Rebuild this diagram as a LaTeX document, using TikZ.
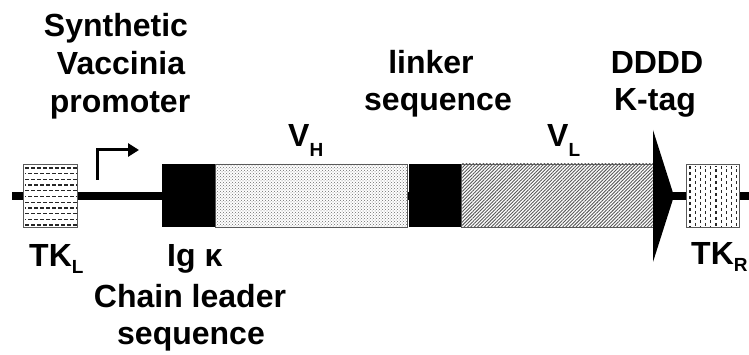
\documentclass[tikz,border=0pt]{standalone}
\usepackage{fontspec}
\setmainfont{Liberation Sans}
\usetikzlibrary{patterns,patterns.meta,arrows.meta}
\newcommand{\lowsub}[2]{\raisebox{-#1}{\fontsize{19}{19}\selectfont #2}}
\begin{document}
\begin{tikzpicture}[x=1pt,y=-1pt,
  lbl/.style={font=\bfseries\fontsize{32}{38}\selectfont, inner sep=0pt, anchor=base},
  lblw/.style={lbl, anchor=base west},
  boxline/.style={draw=gray!70!black, line width=0.8pt},
  blackbox/.style={fill=black},
  dashrow/.style={gray!30!black, line width=1.3pt, dash pattern=on 3.5pt off 2.5pt}]
\useasboundingbox (0,0) rectangle (749,355);
\fill[white] (0,0) rectangle (749,355);

% backbone
\coordinate (bbL) at (12,196);
\coordinate (bbR) at (749,196);
\draw[line width=8pt] (bbL) -- (bbR);

% TK_L box with horizontal dashes
\fill[white] (23,164) rectangle (77,227);
\begin{scope}
  \clip (23,164) rectangle (77,227);
  \foreach \r [evaluate=\r as \yy using {168+\r*5.7}, evaluate=\r as \ph using {mod(\r,2)*3}] in {0,...,10}
    \draw[dashrow, dash phase=\ph pt] (25,\yy) -- (77,\yy);
\end{scope}
\draw[boxline] (23,164) rectangle (77,227);

% TK_R box with vertical dashes
\fill[white] (686,164) rectangle (739,227);
\begin{scope}
  \clip (686,164) rectangle (739,227);
  \foreach \c [evaluate=\c as \xx using {690+\c*5.2}, evaluate=\c as \ph using {mod(\c,2)*3}] in {0,...,9}
    \draw[dashrow, dash phase=\ph pt] (\xx,166) -- (\xx,227);
\end{scope}
\draw[boxline] (686,164) rectangle (739,227);

% Ig kappa leader (black)
\fill[blackbox] (162,164) rectangle (215,227);
% VH
\fill[white] (215,164) rectangle (407,227);
\fill[pattern=crosshatch dots, pattern color=gray!85!black] (215,164) rectangle (407,227);
\draw[boxline] (215,164) rectangle (407,227);
% linker (black)
\fill[blackbox] (409,164) rectangle (461,227);
% VL
\fill[white] (461,164) rectangle (653,227);
\fill[pattern={Lines[angle=45,distance=2.4pt,line width=0.9pt]}, pattern color=gray!70!black] (461,164) rectangle (653,227);
\draw[boxline] (461,164) rectangle (653,227);

% DDDDK tag triangle
\fill (653,130) .. controls (663.5,163) .. (674,196) .. controls (663.5,229) .. (653,262) -- cycle;

% promoter arrow
\coordinate (pa) at (97,180);
\coordinate (pb) at (97,150);
\coordinate (pc) at (139,150);
\draw[line width=3pt, line join=miter, -{Triangle[length=11pt,width=13pt]}] (pa) -- (pb) -- (pc);

% labels
\node[lbl] (syn1) at (116,37) {Synthetic};
\node[lbl] (syn2) at (121,75) {Vaccinia};
\node[lbl] (syn3) at (120,113) {promoter};
\node[lbl] (lnk1) at (431,74) {linker};
\node[lbl] (lnk2) at (438,111) {sequence};
\node[lbl] (tag1) at (657,74) {DDDD};
\node[lbl] (tag2) at (655,111) {K-tag};
\node[lblw] (vh) at (288,147) {V\lowsub{10pt}{H}};
\node[lblw] (vl) at (547,147) {V\lowsub{10pt}{L}};
\node[lblw] (tkl) at (29,266) {TK\lowsub{7pt}{L}};
\node[lblw] (tkr) at (691,265) {TK\lowsub{7pt}{R}};
\node[lblw] (igk) at (167,266) {Ig κ};
\node[lbl] (ch1) at (190,307) {Chain leader};
\node[lbl] (ch2) at (191,344) {sequence};
\end{tikzpicture}
\end{document}
